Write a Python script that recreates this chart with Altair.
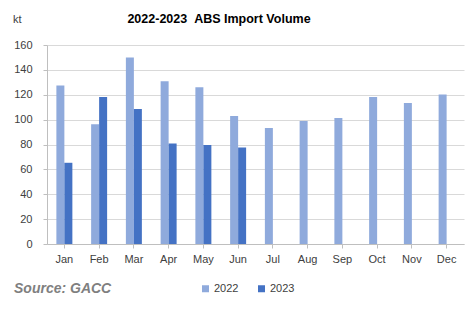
import altair as alt
import pandas as pd

months = ["Jan", "Feb", "Mar", "Apr", "May", "Jun", "Jul", "Aug", "Sep", "Oct", "Nov", "Dec"]
v2022 = [127.4, 96.2, 150.0, 130.9, 126.1, 102.9, 93.3, 98.9, 101.3, 118.1, 113.3, 120.2]
v2023 = [65.3, 118.1, 108.5, 80.8, 79.5, 77.6]
years = ["2022", "2023"]
colors = ["#8FAADC", "#4472C4"]

rows = []
for m, v in zip(months, v2022):
    rows.append({"month": m, "year": "2022", "value": v})
for m, v in zip(months, v2023):
    rows.append({"month": m, "year": "2023", "value": v})
df = pd.DataFrame(rows)

FONT = "Liberation Sans"

bars = alt.Chart(df).mark_bar().encode(
    x=alt.X("month:N", sort=months, title=None,
            scale=alt.Scale(paddingInner=0.54, paddingOuter=0.27),
            axis=alt.Axis(labelAngle=0, labelFontSize=11, labelColor="#404040", labelFont=FONT,
                          domainColor="#BFBFBF", tickColor="#BFBFBF", tickSize=4,
                          labelPadding=5, grid=False)),
    xOffset=alt.XOffset("year:N", scale=alt.Scale(paddingInner=0, paddingOuter=0)),
    y=alt.Y("value:Q", title=None,
            scale=alt.Scale(domain=[0, 160], nice=False),
            axis=alt.Axis(values=list(range(0, 161, 20)), labelFontSize=11, labelColor="#404040",
                          labelFont=FONT, domain=True, domainColor="#BFBFBF", tickColor="#BFBFBF",
                          tickSize=4, labelPadding=11, gridColor="#D9D9D9")),
    color=alt.Color("year:N", scale=alt.Scale(domain=years, range=colors),
                    legend=alt.Legend(title=None, orient="none", direction="horizontal",
                                      legendX=153, legendY=238, symbolType="square",
                                      symbolSize=49, symbolStrokeWidth=0,
                                      labelFontSize=11, labelColor="#404040", labelFont=FONT,
                                      columnPadding=17, symbolOffset=0, labelOffset=3)),
)

one = pd.DataFrame({"t": [0]})
title = alt.Chart(one).mark_text(text="2022-2023\u00a0\u00a0ABS Import Volume", font=FONT, fontSize=12.5,
                                 fontWeight="bold", color="#000000", align="center",
                                 baseline="alphabetic").encode(x=alt.value(172), y=alt.value(-22))
kt = alt.Chart(one).mark_text(text="kt", font=FONT, fontSize=11, color="#404040", align="left",
                              baseline="alphabetic").encode(x=alt.value(-34), y=alt.value(-22))
source = alt.Chart(one).mark_text(text="Source: GACC", font=FONT, fontSize=14, fontWeight="bold",
                                  fontStyle="italic", color="#7F7F7F", align="left",
                                  baseline="alphabetic").encode(x=alt.value(-33), y=alt.value(248))

chart = alt.layer(bars, title, kt, source).properties(
    width=417, height=199,
    autosize=alt.AutoSizeParams(type="none"),
    padding={"left": 47, "top": 45, "right": 8, "bottom": 66},
    background="white",
).configure_view(stroke=None)

chart.save("out.html", embed_options={"renderer": "svg", "actions": False})
